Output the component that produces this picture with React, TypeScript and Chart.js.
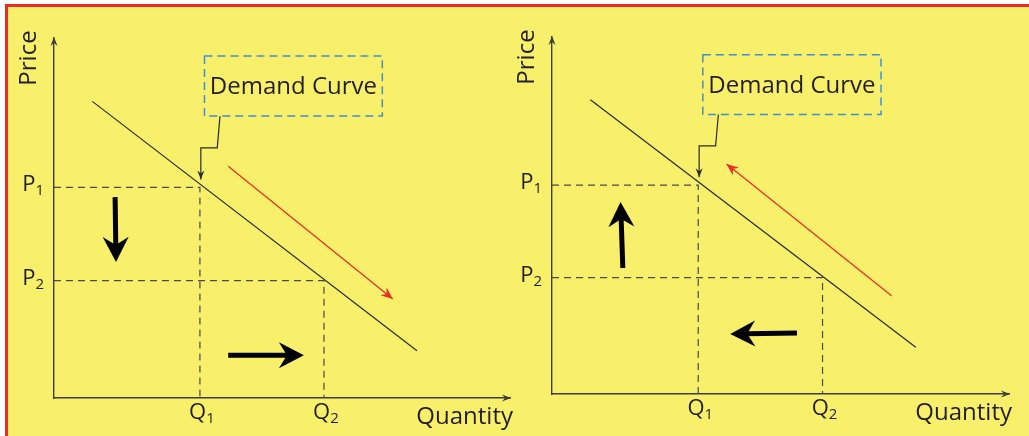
import { useEffect, useRef } from 'react';
import { Chart, registerables } from 'chart.js';

Chart.register(...registerables);

const FONT = '"Open Sans", "Noto Sans", "DejaVu Sans", sans-serif';
const INK = '#231f20';
const AXIS = '#3d3d3d';
const GUIDE = '#4a4a4a';
const RED = '#ee2a24';
const BLUE = '#3f8fd2';
const YELLOW = '#f8ef6b';

// Demand curve end points (quantity, price)
const demandQuantity = [0.84, 7.96];
const demandPrice = [8.24, 1.31];

// Marked price and quantity levels
const priceLevels = [5.85, 3.26];
const quantityLevels = [3.2, 5.92];
const priceTickLabels = [['P', '1'], ['P', '2']];
const quantityTickLabels = [['Q', '1'], ['Q', '2']];

// Axis titles and the callout text
const yTitle = 'Price';
const xTitle = 'Quantity';
const calloutText = 'Demand Curve';

// Callout box corners and its leader line (quantity, price)
const calloutQuantity = [3.3, 7.2];
const calloutPrice = [9.5, 7.83];
const leaderQuantity = [3.64, 3.58, 3.22, 3.22];
const leaderPrice = [7.83, 6.95, 6.95, 6.07];

// Movement along the curve (red arrow), from P1/Q1 towards P2/Q2
const movementQuantity = [3.82, 7.43];
const movementPrice = [6.44, 2.75];

// Price-fall panel: price arrow and quantity arrow (tail, tip)
const fallPriceArrowQ = [1.34, 1.36];
const fallPriceArrowP = [5.58, 3.78];
const fallQtyArrowQ = [3.82, 5.48];
const fallQtyArrowP = [1.19, 1.19];

// Price-rise panel: price arrow and quantity arrow (tail, tip)
const risePriceArrowQ = [1.55, 1.5];
const risePriceArrowP = [3.53, 5.38];
const riseQtyArrowQ = [5.36, 3.9];
const riseQtyArrowP = [1.71, 1.68];

type Pt = { x: number; y: number };
const pts = (xs: number[], ys: number[]): Pt[] => xs.map((x, i) => ({ x, y: ys[i] }));

function arrowHead(
  ctx: CanvasRenderingContext2D,
  tx: number,
  ty: number,
  fx: number,
  fy: number,
  len: number,
  half: number,
  notch: number,
  color: string
) {
  const a = Math.atan2(ty - fy, tx - fx);
  const dx = Math.cos(a);
  const dy = Math.sin(a);
  const px = -dy;
  const py = dx;
  ctx.beginPath();
  ctx.moveTo(tx, ty);
  ctx.lineTo(tx - dx * len + px * half, ty - dy * len + py * half);
  ctx.lineTo(tx - dx * notch, ty - dy * notch);
  ctx.lineTo(tx - dx * len - px * half, ty - dy * len - py * half);
  ctx.closePath();
  ctx.fillStyle = color;
  ctx.fill();
}

function boldArrow(ctx: CanvasRenderingContext2D, t: Pt, h: Pt) {
  const a = Math.atan2(h.y - t.y, h.x - t.x);
  const notch = 16;
  ctx.beginPath();
  ctx.moveTo(t.x, t.y);
  ctx.lineTo(h.x - Math.cos(a) * notch, h.y - Math.sin(a) * notch);
  ctx.strokeStyle = '#000';
  ctx.lineWidth = 5;
  ctx.lineCap = 'butt';
  ctx.stroke();
  arrowHead(ctx, h.x, h.y, t.x, t.y, 25, 13, notch + 1, '#000');
}

type PanelSpec = {
  left: number;
  padding: { left: number; top: number; right: number; bottom: number };
  rising: boolean;
};

const panelSpecs: PanelSpec[] = [
  { left: 0, padding: { left: 54, top: 38, right: 5, bottom: 38 }, rising: false },
  { left: 498, padding: { left: 54, top: 37, right: 4, bottom: 42 }, rising: true },
];

function Panel({ spec }: { spec: PanelSpec }) {
  const ref = useRef<HTMLCanvasElement | null>(null);

  useEffect(() => {
    const canvas = ref.current;
    if (!canvas) return;

    const move = pts(movementQuantity, movementPrice);
    const redLine = spec.rising ? [...move].reverse() : move;
    const priceArrow = spec.rising
      ? pts(risePriceArrowQ, risePriceArrowP)
      : pts(fallPriceArrowQ, fallPriceArrowP);
    const qtyArrow = spec.rising
      ? pts(riseQtyArrowQ, riseQtyArrowP)
      : pts(fallQtyArrowQ, fallQtyArrowP);

    const guides = priceLevels.map((p, i) => ({
      data: [
        { x: 0, y: p },
        { x: quantityLevels[i], y: p },
        { x: quantityLevels[i], y: 0 },
      ],
      borderColor: GUIDE,
      borderWidth: 1.2,
      borderDash: [7, 5],
      pointRadius: 0,
      showLine: true,
      fill: false,
      tension: 0,
    }));

    const decorations = {
      id: 'decorations',
      afterDatasetsDraw(chart: Chart) {
        const { ctx, chartArea: area, scales } = chart;
        const xs = scales.x;
        const ys = scales.y;
        const px = (p: Pt) => ({ x: xs.getPixelForValue(p.x), y: ys.getPixelForValue(p.y) });
        ctx.save();

        // axis arrowheads
        arrowHead(ctx, area.left, area.top - 1, area.left, area.top + 20, 9, 3.5, 6, AXIS);
        arrowHead(ctx, area.right + 1, area.bottom, area.left, area.bottom, 9, 3.5, 6, AXIS);

        // callout box
        const b0 = px({ x: calloutQuantity[0], y: calloutPrice[0] });
        const b1 = px({ x: calloutQuantity[1], y: calloutPrice[1] });
        ctx.setLineDash([8, 5]);
        ctx.strokeStyle = BLUE;
        ctx.lineWidth = 1.5;
        ctx.strokeRect(b0.x, b0.y, b1.x - b0.x, b1.y - b0.y);
        ctx.setLineDash([]);
        ctx.fillStyle = INK;
        ctx.font = `24px ${FONT}`;
        ctx.textAlign = 'center';
        ctx.textBaseline = 'middle';
        ctx.fillText(calloutText, (b0.x + b1.x) / 2, (b0.y + b1.y) / 2 + 1);

        // leader arrowhead
        const l = pts(leaderQuantity, leaderPrice).map(px);
        const lt = l[l.length - 1];
        const lf = l[l.length - 2];
        arrowHead(ctx, lt.x, lt.y, lf.x, lf.y, 9, 3.5, 6, '#2b2b2b');

        // red movement arrowhead
        const r = redLine.map(px);
        arrowHead(ctx, r[1].x, r[1].y, r[0].x, r[0].y, 12, 5, 8, RED);

        // bold direction arrows
        const pa = priceArrow.map(px);
        const qa = qtyArrow.map(px);
        boldArrow(ctx, pa[0], pa[1]);
        boldArrow(ctx, qa[0], qa[1]);

        // tick labels with subscripts
        const drawSub = (
          main: string,
          sub: string,
          x: number,
          y: number,
          align: 'right' | 'center'
        ) => {
          ctx.textAlign = 'left';
          ctx.textBaseline = 'alphabetic';
          ctx.font = `22px ${FONT}`;
          const mw = ctx.measureText(main).width;
          ctx.font = `15px ${FONT}`;
          const sw = ctx.measureText(sub).width;
          const total = mw + sw;
          const x0 = align === 'right' ? x - total : x - total / 2;
          ctx.font = `22px ${FONT}`;
          ctx.fillText(main, x0, y);
          ctx.font = `15px ${FONT}`;
          ctx.fillText(sub, x0 + mw, y + 4);
        };
        ctx.fillStyle = INK;
        priceLevels.forEach((p, i) => {
          const y = ys.getPixelForValue(p);
          drawSub(priceTickLabels[i][0], priceTickLabels[i][1], area.left - 10, y + 4, 'right');
        });
        quantityLevels.forEach((q, i) => {
          const x = xs.getPixelForValue(q);
          drawSub(quantityTickLabels[i][0], quantityTickLabels[i][1], x + 2, area.bottom + 21, 'center');
        });

        // axis titles
        ctx.font = `24px ${FONT}`;
        ctx.textBaseline = 'alphabetic';
        ctx.textAlign = 'center';
        ctx.save();
        ctx.translate(area.left - 18, area.top + 20);
        ctx.rotate(-Math.PI / 2);
        ctx.fillText(yTitle, 0, 0);
        ctx.restore();
        ctx.font = `24px ${FONT}`;
        ctx.textAlign = 'right';
        ctx.fillText(xTitle, area.right + 3, area.bottom + 26);

        ctx.restore();
      },
    };

    const chart = new Chart(canvas, {
      type: 'scatter',
      data: {
        datasets: [
          {
            data: pts(demandQuantity, demandPrice),
            borderColor: '#2a2a2a',
            borderWidth: 1.2,
            pointRadius: 0,
            showLine: true,
            tension: 0,
          },
          ...guides,
          {
            data: pts(leaderQuantity, leaderPrice),
            borderColor: '#2b2b2b',
            borderWidth: 1.2,
            pointRadius: 0,
            showLine: true,
            tension: 0,
          },
          {
            data: redLine,
            borderColor: RED,
            borderWidth: 1.2,
            pointRadius: 0,
            showLine: true,
            tension: 0,
          },
        ],
      },
      options: {
        animation: false,
        responsive: false,
        devicePixelRatio: 1,
        layout: { padding: spec.padding },
        plugins: { legend: { display: false }, tooltip: { enabled: false } },
        events: [],
        elements: { line: { borderCapStyle: 'butt' } },
        scales: {
          x: {
            type: 'linear',
            min: 0,
            max: 10,
            ticks: { display: false },
            grid: { display: false, drawTicks: false },
            border: { display: true, color: AXIS, width: 1.4 },
          },
          y: {
            type: 'linear',
            min: 0,
            max: 10,
            ticks: { display: false },
            grid: { display: false, drawTicks: false },
            border: { display: true, color: AXIS, width: 1.4 },
          },
        },
      },
      plugins: [decorations],
    });
    return () => chart.destroy();
  }, [spec]);

  return (
    <canvas
      ref={ref}
      width={515}
      height={436}
      style={{ position: 'absolute', left: spec.left, top: 0, width: 515, height: 436 }}
    />
  );
}

export default function App() {
  return (
    <div
      style={{
        position: 'fixed',
        left: 0,
        top: 0,
        width: 1029,
        height: 436,
        background: '#fff',
        overflow: 'hidden',
      }}
    >
      <div
        style={{
          position: 'absolute',
          left: 5,
          top: 4,
          width: 1040,
          height: 450,
          borderLeft: `3px solid ${RED}`,
          borderTop: `3px solid ${RED}`,
          background: YELLOW,
        }}
      />
      {panelSpecs.map((s, i) => (
        <Panel key={i} spec={s} />
      ))}
    </div>
  );
}
